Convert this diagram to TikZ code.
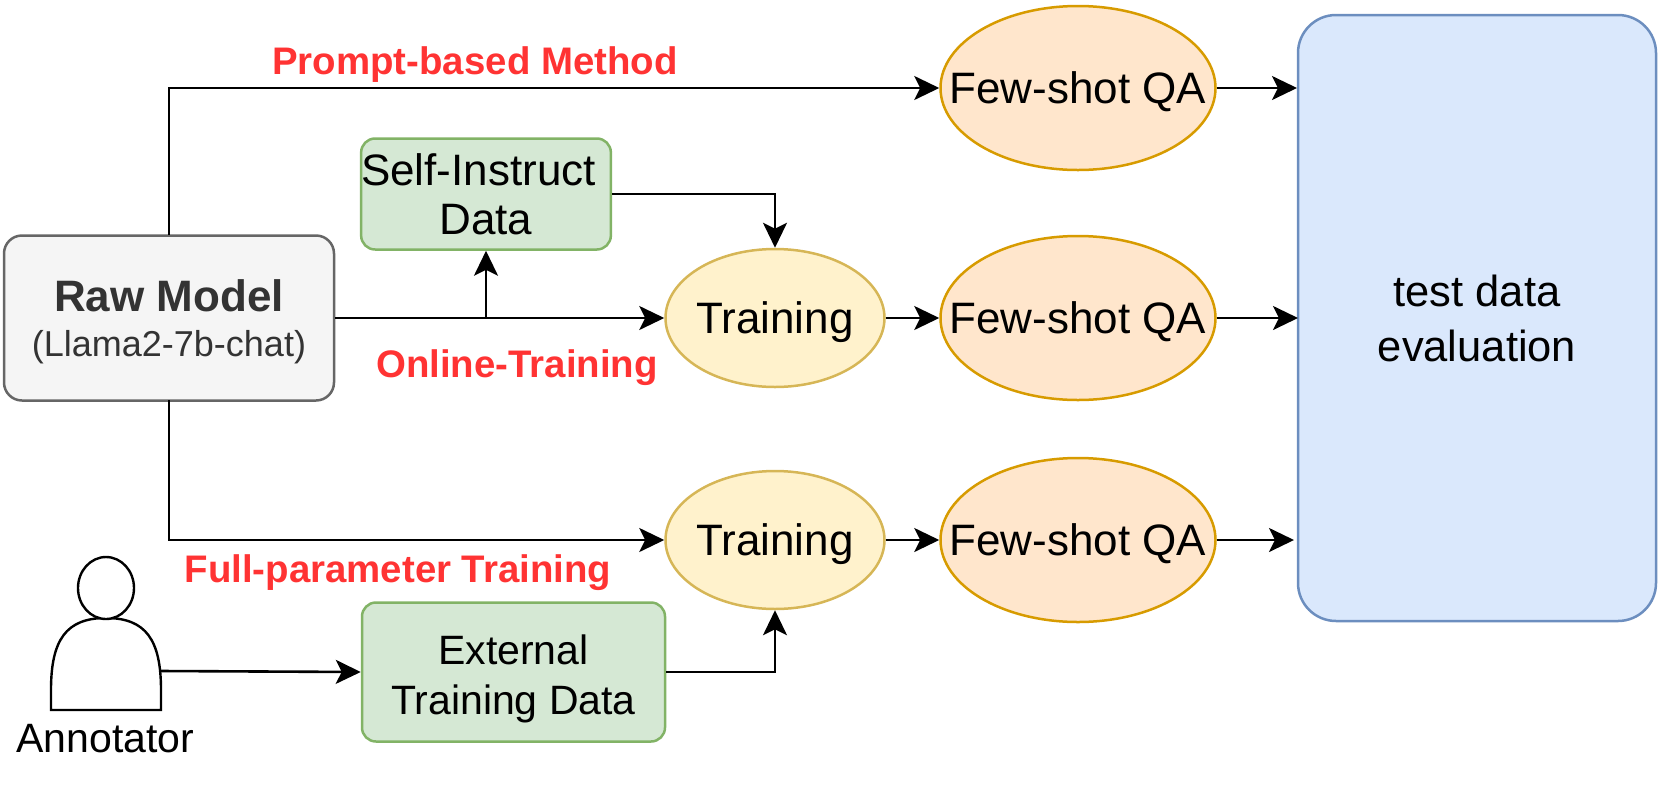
\documentclass[tikz,border=0pt]{standalone}
\usepackage{fontspec}
\setmainfont{Liberation Sans}
\usetikzlibrary{arrows.meta,shapes.geometric}
\definecolor{gf}{HTML}{D5E8D4}\definecolor{gd}{HTML}{82B366}
\definecolor{yf}{HTML}{FFF2CC}\definecolor{yd}{HTML}{D6B656}
\definecolor{of}{HTML}{FFE6CC}\definecolor{od}{HTML}{D79B00}
\definecolor{bf}{HTML}{DAE8FC}\definecolor{bd}{HTML}{6C8EBF}
\definecolor{wf}{HTML}{F5F5F5}\definecolor{wd}{HTML}{666666}
\definecolor{rl}{HTML}{FF3333}
\newcommand{\ovaltext}[1]{\rule{0pt}{40pt}\makebox[0pt]{#1}}
\tikzset{x=1pt,y=-1pt,
 base/.style={draw,line width=2.5pt,align=center,inner sep=0pt,text=black,font=\fontsize{41}{50}\selectfont},
 green/.style={base,rounded corners=14pt,fill=gf,draw=gd},
 train/.style={base,ellipse,fill=yf,draw=yd,minimum width=219pt,minimum height=138pt,font=\fontsize{44}{52}\selectfont},
 qa/.style={base,ellipse,fill=of,draw=od,minimum width=275pt,minimum height=164pt,font=\fontsize{44}{52}\selectfont},
 lbl/.style={text=rl,font=\bfseries\fontsize{38.4}{46}\selectfont,inner sep=0pt},
 conn/.style={draw=black,line width=2.6pt,-{Stealth[length=25pt,width=24pt,inset=6pt]}}}
\begin{document}
\begin{tikzpicture}
\useasboundingbox (0,0) rectangle (1660,788);
\node[base,rounded corners=38pt,fill=bf,draw=bd,minimum width=358pt,minimum height=606pt,font=\fontsize{43.5}{55}\selectfont] (eval) at (1477,318) {\rule{0pt}{32pt}test data\\evaluation};
\node[base,rounded corners=18pt,fill=wf,draw=wd,text=black!80,minimum width=330pt,minimum height=165pt] (raw) at (169,318) {\rule{0pt}{40pt}\textbf{\fontsize{44}{52}\selectfont Raw Model}\\[-5pt]{\fontsize{36}{44}\selectfont (Llama2-7b-chat)}};
\node[green,minimum width=248pt,minimum height=111pt,font=\fontsize{44}{49}\selectfont] (self) at (486,194) {Self-Instruct\hspace*{15pt}\\Data};
\node[green,minimum width=303pt,minimum height=139pt] (ext) at (513.5,672) {\rule{0pt}{44pt}External\\Training Data};
\node[train] (t1) at (775,318) {\ovaltext{Training}};
\node[train] (t2) at (775,540) {\ovaltext{Training}};
\node[qa] (q0) at (1078,88) {\ovaltext{Few-shot QA}};
\node[qa] (q1) at (1078,318) {\ovaltext{Few-shot QA}};
\node[qa] (q2) at (1078,540) {\ovaltext{Few-shot QA}};
\node[lbl] (l0) at (475,65) {Prompt-based Method};
\node[lbl] (l1) at (517,368) {Online-Training};
\node[lbl] (l2) at (398,572.5) {Full-parameter Training};
% person
\draw[black,line width=2.4pt,fill=white] (51,710) -- (51,690) .. controls (51,640) and (66,618) .. (106,618) .. controls (146,618) and (161,640) .. (161,690) -- (161,710) -- cycle;
\draw[black,line width=2.4pt,fill=white] (106,588) ellipse (28pt and 31pt);
\coordinate (ph) at (161,671);
\node[font=\fontsize{41}{48}\selectfont,inner sep=0pt] (ann) at (105.5,739) {Annotator};
\coordinate (a0) at (169,235);
\coordinate (a2) at (169,400);
\coordinate (b) at (486,318);
\coordinate (e0) at (1297,88);
\coordinate (e1) at (1298,318);
\coordinate (e2) at (1294,540);
\draw[conn] (a0) |- (q0.west);
\draw[conn] (raw.east) -- (t1.west);
\draw[conn] (b) -- (self.south);
\draw[conn] (self.east) -| (t1.north);
\draw[conn] (a2) |- (t2.west);
\draw[conn] (t1.east) -- (q1.west);
\draw[conn] (t2.east) -- (q2.west);
\draw[conn] (q0.east) -- (e0);
\draw[conn] (q1.east) -- (e1);
\draw[conn] (q2.east) -- (e2);
\draw[conn] (ph) -- (ext.west);
\draw[conn] (ext.east) -| (t2.south);
\end{tikzpicture}
\end{document}
